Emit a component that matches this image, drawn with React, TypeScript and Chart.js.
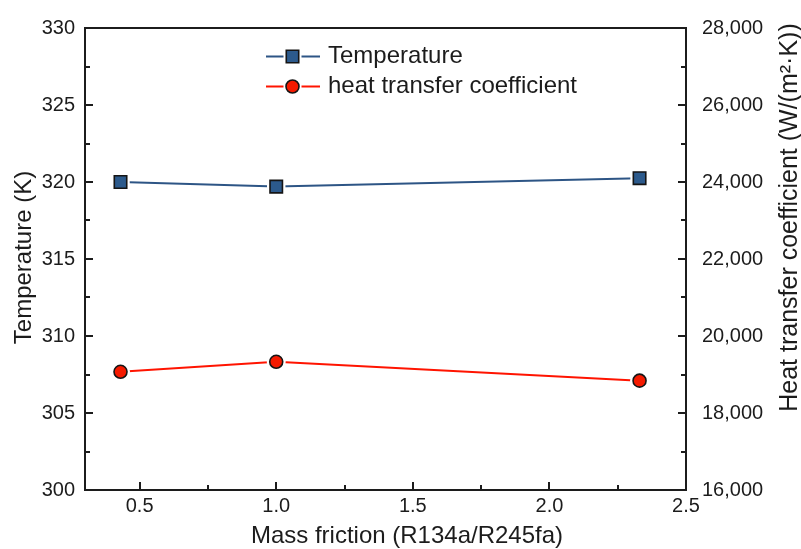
import { useEffect, useRef } from "react";
import { Chart, registerables } from "chart.js";

Chart.register(...registerables);

// ---------- data ----------
const massFraction = [0.43, 1.0, 2.33];
const temperatureK = [320.0, 319.7, 320.25];
const heatTransferCoef = [19070, 19330, 18840];

const seriesLabels = ["Temperature", "heat transfer coefficient"];

const xMajorTicks = [0.5, 1.0, 1.5, 2.0, 2.5];
const xMinorTicks = [0.75, 1.25, 1.75, 2.25];
const tempMajorTicks = [300, 305, 310, 315, 320, 325, 330];
const tempMinorTicks = [302.5, 307.5, 312.5, 317.5, 322.5, 327.5];
const htcMajorTicks = [16000, 18000, 20000, 22000, 24000, 26000, 28000];
const htcMinorTicks = [17000, 19000, 21000, 23000, 25000, 27000];

const xTitle = "Mass friction (R134a/R245fa)";
const yTitle = "Temperature (K)";
const y1Title = "Heat transfer coefficient (W/(m²·K))";

// ---------- style ----------
const FONT = "'Liberation Sans', Arial, Helvetica, sans-serif";
const INK = "#1c1c1c";
const BLUE_LINE = "#2d5585";
const BLUE_FILL = "#2c5a8c";
const RED_LINE = "#ff1400";
const RED_FILL = "#f51a00";
const MARKER_EDGE = "#151515";

function drawMarker(ctx: CanvasRenderingContext2D, kind: string, x: number, y: number, half: number, fill: string, edge: string, lw: number) {
  ctx.beginPath();
  if (kind === "rect") ctx.rect(x - half, y - half, half * 2, half * 2);
  else ctx.arc(x, y, half, 0, Math.PI * 2);
  ctx.fillStyle = fill;
  ctx.fill();
  if (lw > 0) {
    ctx.lineWidth = lw;
    ctx.strokeStyle = edge;
    ctx.stroke();
  }
}

const framePlugin = {
  id: "originFrame",
  afterDatasetsDraw(chart: any) {
    const ctx: CanvasRenderingContext2D = chart.ctx;
    ctx.save();
    chart.data.datasets.forEach((ds: any, i: number) => {
      const meta = chart.getDatasetMeta(i);
      meta.data.forEach((pt: any) => {
        const r = ds.pointRadius;
        const half = ds.pointStyle === "rect" ? (r / Math.SQRT2) : r;
        drawMarker(ctx, ds.pointStyle, pt.x, pt.y, half + 3, "#ffffff", "#ffffff", 0);
        pt.draw(ctx, chart.chartArea);
      });
    });
    ctx.restore();
  },
  afterDraw(chart: any) {
    const ctx: CanvasRenderingContext2D = chart.ctx;
    const { left, right, top, bottom } = chart.chartArea;
    const sx = chart.scales.x;
    const sy = chart.scales.y;
    const sy1 = chart.scales.y1;
    ctx.save();
    // frame
    ctx.strokeStyle = INK;
    ctx.lineWidth = 2;
    ctx.strokeRect(left, top, right - left, bottom - top);
    // inward ticks
    const MAJ = 8;
    const MIN = 5;
    ctx.beginPath();
    xMajorTicks.forEach((v) => { const p = Math.round(sx.getPixelForValue(v)); ctx.moveTo(p, bottom); ctx.lineTo(p, bottom - MAJ); });
    xMinorTicks.forEach((v) => { const p = Math.round(sx.getPixelForValue(v)); ctx.moveTo(p, bottom); ctx.lineTo(p, bottom - MIN); });
    tempMajorTicks.forEach((v) => { const p = Math.round(sy.getPixelForValue(v)); ctx.moveTo(left, p); ctx.lineTo(left + MAJ, p); });
    tempMinorTicks.forEach((v) => { const p = Math.round(sy.getPixelForValue(v)); ctx.moveTo(left, p); ctx.lineTo(left + MIN, p); });
    htcMajorTicks.forEach((v) => { const p = Math.round(sy1.getPixelForValue(v)); ctx.moveTo(right, p); ctx.lineTo(right - MAJ, p); });
    htcMinorTicks.forEach((v) => { const p = Math.round(sy1.getPixelForValue(v)); ctx.moveTo(right, p); ctx.lineTo(right - MIN, p); });
    ctx.stroke();

    // axis titles
    ctx.fillStyle = INK;
    ctx.textAlign = "center";
    ctx.textBaseline = "middle";
    ctx.font = `24px ${FONT}`;
    ctx.fillText(xTitle, 407, 536);
    ctx.save();
    ctx.translate(24.5, 257.5);
    ctx.rotate(-Math.PI / 2);
    ctx.fillText(yTitle, 0, 0);
    ctx.restore();
    ctx.save();
    ctx.translate(790, 217.5);
    ctx.rotate(-Math.PI / 2);
    ctx.font = `25px ${FONT}`;
    ctx.fillText(y1Title, 0, 0);
    ctx.restore();

    // legend
    const rows = [56.5, 86.5];
    const lx0 = 266;
    const lx1 = 320;
    const mx = 292.5;
    chart.data.datasets.forEach((ds: any, i: number) => {
      const yy = rows[i];
      ctx.beginPath();
      ctx.strokeStyle = ds.borderColor;
      ctx.lineWidth = 2;
      ctx.moveTo(lx0, yy);
      ctx.lineTo(mx - 9, yy);
      ctx.moveTo(mx + 9, yy);
      ctx.lineTo(lx1, yy);
      ctx.stroke();
      const half = ds.pointStyle === "rect" ? ds.pointRadius / Math.SQRT2 : ds.pointRadius;
      drawMarker(ctx, ds.pointStyle, mx, yy, half, ds.pointBackgroundColor, ds.pointBorderColor, ds.pointBorderWidth);
      ctx.fillStyle = INK;
      ctx.textAlign = "left";
      ctx.textBaseline = "middle";
      ctx.font = `24px ${FONT}`;
      ctx.fillText(ds.label, 328, yy);
    });
    ctx.restore();
  },
};

export default function App() {
  const canvasRef = useRef<HTMLCanvasElement | null>(null);

  useEffect(() => {
    if (!canvasRef.current) return;
    const tickFont = { family: FONT, size: 20 };
    const chart = new Chart(canvasRef.current, {
      type: "line",
      data: {
        datasets: [
          {
            label: seriesLabels[0],
            data: massFraction.map((x, i) => ({ x, y: temperatureK[i] })),
            yAxisID: "y",
            borderColor: BLUE_LINE,
            borderWidth: 2,
            pointStyle: "rect",
            pointRadius: 8.8,
            pointBackgroundColor: BLUE_FILL,
            pointBorderColor: MARKER_EDGE,
            pointBorderWidth: 1.6,
            tension: 0,
          },
          {
            label: seriesLabels[1],
            data: massFraction.map((x, i) => ({ x, y: heatTransferCoef[i] })),
            yAxisID: "y1",
            borderColor: RED_LINE,
            borderWidth: 2,
            pointStyle: "circle",
            pointRadius: 6.5,
            pointBackgroundColor: RED_FILL,
            pointBorderColor: MARKER_EDGE,
            pointBorderWidth: 1.6,
            tension: 0,
          },
        ],
      },
      options: {
        animation: false,
        responsive: false,
        layout: { padding: { top: 23, left: 0, right: 0, bottom: 0 } },
        plugins: { legend: { display: false }, tooltip: { enabled: false } },
        scales: {
          x: {
            type: "linear",
            position: "bottom",
            min: 0.3,
            max: 2.5,
            afterBuildTicks: (s: any) => { s.ticks = xMajorTicks.map((value) => ({ value })); },
            afterFit: (s: any) => { s.height = 59; },
            grid: { display: false, drawTicks: false },
            border: { display: false },
            ticks: {
              font: tickFont,
              color: INK,
              padding: 4,
              maxRotation: 0,
              autoSkip: false,
              callback: (v: any) => Number(v).toFixed(1),
            },
          },
          y: {
            type: "linear",
            position: "left",
            min: 300,
            max: 330,
            afterBuildTicks: (s: any) => { s.ticks = tempMajorTicks.map((value) => ({ value })); },
            afterFit: (s: any) => { s.width = 85; },
            grid: { display: false, drawTicks: false },
            border: { display: false },
            ticks: { font: tickFont, color: INK, padding: 10, callback: (v: any) => String(v) },
          },
          y1: {
            type: "linear",
            position: "right",
            min: 16000,
            max: 28000,
            afterBuildTicks: (s: any) => { s.ticks = htcMajorTicks.map((value) => ({ value })); },
            afterFit: (s: any) => { s.width = 115; },
            grid: { display: false, drawTicks: false },
            border: { display: false },
            ticks: {
              font: tickFont,
              color: INK,
              padding: 16,
              callback: (v: any) => Number(v).toLocaleString("en-US"),
            },
          },
        },
      },
      plugins: [framePlugin],
    });
    return () => chart.destroy();
  }, []);

  return (
    <div style={{ position: "absolute", left: 0, top: 0, width: 801, height: 549, background: "#ffffff" }}>
      <canvas ref={canvasRef} width={801} height={549} style={{ display: "block" }} />
    </div>
  );
}
